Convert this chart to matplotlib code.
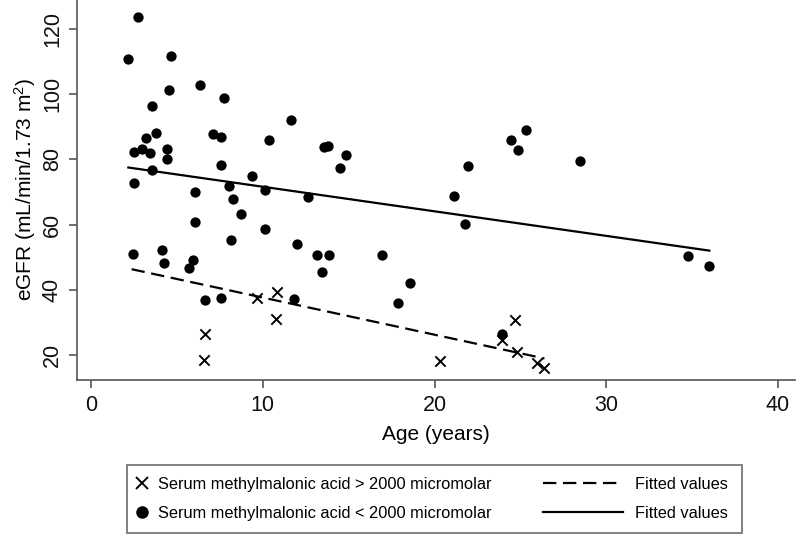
import numpy as np
import matplotlib
matplotlib.use("Agg")
import matplotlib.pyplot as plt
from matplotlib.lines import Line2D

plt.rcParams['font.family'] = ['Liberation Sans', 'DejaVu Sans']
plt.rcParams['mathtext.fontset'] = 'custom'
plt.rcParams['mathtext.rm'] = 'Liberation Sans'

# serum MMA > 2000 micromolar (crosses)
hi_age = [6.57, 6.65, 9.68, 10.85, 10.77, 20.3, 23.92, 24.71, 24.79, 25.95, 26.35]
hi_egfr = [18.5, 26.3, 37.4, 39.4, 31.0, 18.2, 24.7, 30.7, 20.8, 17.5, 16.1]

# serum MMA < 2000 micromolar (dots)
lo_age = [2.75, 2.17, 4.63, 4.55, 6.36, 7.75, 3.55, 3.76, 3.22, 7.11, 7.58, 10.34,
          2.52, 2.94, 3.43, 4.44, 4.44, 7.56, 3.56, 9.37, 2.52, 6.05, 8.06, 10.13,
          8.27, 8.74, 6.05, 10.13, 8.14, 2.44, 4.15, 4.24, 5.95, 5.71, 6.63, 7.56,
          11.63, 13.57, 13.8, 14.83, 14.5, 12.65, 11.98, 13.17, 13.84, 13.47, 16.95,
          18.58, 17.87, 11.84, 25.35, 24.45, 24.86, 28.49, 21.96, 21.14, 21.77, 23.92,
          34.74, 35.97]
lo_egfr = [123.6, 110.8, 111.8, 101.4, 102.7, 98.9, 96.3, 88.2, 86.7, 87.7, 87.0, 86.0,
           82.3, 83.3, 81.8, 83.3, 80.1, 78.2, 76.6, 75.0, 72.8, 69.9, 71.9, 70.6,
           67.9, 63.1, 60.8, 58.7, 55.3, 51.0, 52.3, 48.1, 49.0, 46.6, 36.7, 37.5,
           92.0, 83.7, 84.1, 81.3, 77.4, 68.3, 53.9, 50.5, 50.8, 45.3, 50.5,
           42.0, 35.8, 37.3, 88.9, 85.8, 82.8, 79.4, 78.1, 68.9, 60.3, 26.3,
           50.4, 47.4]

# fitted values
fit_hi_x = [2.36, 26.4]
fit_hi_y = [46.3, 18.9]
fit_lo_x = [2.17, 36.0]
fit_lo_y = [77.5, 52.0]

xticks = [0, 10, 20, 30, 40]
yticks = [20, 40, 60, 80, 100, 120]

fig = plt.figure(figsize=(8, 5.38), dpi=100)
ax = fig.add_axes([0.096, 0.2937, 0.898, 0.7063])

ax.scatter(lo_age, lo_egfr, s=55, c='black', marker='o', linewidths=0, zorder=3)
ax.scatter(hi_age, hi_egfr, s=55, c='black', marker='x', linewidths=1.4, zorder=3)
ax.plot(fit_hi_x, fit_hi_y, color='black', lw=1.6, dashes=(6, 3))
ax.plot(fit_lo_x, fit_lo_y, color='black', lw=1.6)

ax.set_xlim(-0.83, 41.0)
ax.set_ylim(12.3, 128.9)
ax.set_xticks(xticks)
ax.set_yticks(yticks)
for s in ['top', 'right']:
    ax.spines[s].set_visible(False)
for s in ['left', 'bottom']:
    ax.spines[s].set_color('#555555')
    ax.spines[s].set_linewidth(1.2)
ax.tick_params(direction='out', length=6, width=1.2, color='#555555',
               labelsize=15.5, labelcolor='#111111', pad=4)
ax.tick_params(axis='x', pad=5)
plt.setp(ax.get_yticklabels(), rotation=90, va='center')
ax.set_xlabel('Age (years)', fontsize=15, labelpad=6)
ax.set_ylabel(r'eGFR (mL/min/1.73 m$\mathregular{^2}$)', fontsize=15, labelpad=3)

h_cross = Line2D([], [], ls='none', marker='x', color='black', markersize=9, mew=1.4)
h_dot = Line2D([], [], ls='none', marker='o', color='black', markersize=8)
h_dash = Line2D([], [], color='black', lw=1.6, dashes=(6, 3))
h_solid = Line2D([], [], color='black', lw=1.6)

top = 1 - 464.5 / 538
leg1 = fig.legend([h_cross, h_dot],
                  ['Serum methylmalonic acid > 2000 micromolar',
                   'Serum methylmalonic acid < 2000 micromolar'],
                  loc='upper left', bbox_to_anchor=(0.159, top, 0.768, 0.0),
                  mode='expand', ncol=1, fontsize=11.8, frameon=True, fancybox=False,
                  edgecolor='#555555', handlelength=0.3, handletextpad=0.8,
                  labelspacing=0.84, borderpad=0.76, borderaxespad=0)
leg1.get_frame().set_linewidth(1.3)
leg2 = fig.legend([h_dash, h_solid], ['Fitted values', 'Fitted values'],
                  loc='upper left', bbox_to_anchor=(0.663, top),
                  fontsize=11.8, frameon=False, handlelength=4.9, handletextpad=0.74,
                  labelspacing=0.84, borderpad=0.76, borderaxespad=0)

fig.savefig('out.png', dpi=100)
